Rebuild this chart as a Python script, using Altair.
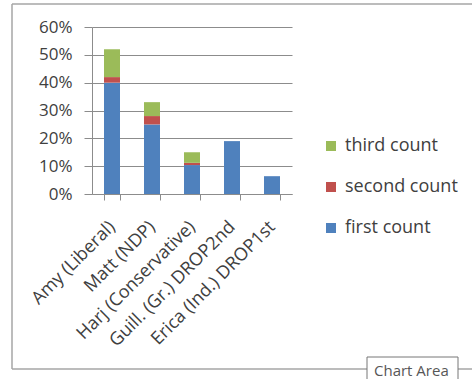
import altair as alt
import pandas as pd

# Share of votes per candidate, split by counting round
candidates = [
    "Amy (Liberal)",
    "Matt (NDP)",
    "Harj (Conservative)",
    "Guill. (Gr.) DROP2nd",
    "Erica (Ind.) DROP1st",
]
first_count = [0.40, 0.25, 0.104, 0.19, 0.064]
second_count = [0.02, 0.03, 0.008, 0.0, 0.0]
third_count = [0.10, 0.05, 0.038, 0.0, 0.0]

series_names = ["first count", "second count", "third count"]
legend_order = ["third count", "second count", "first count"]
colors = ["#9BBB59", "#C0504D", "#4F81BD"]
y_ticks = [0, 0.1, 0.2, 0.3, 0.4, 0.5, 0.6]

rows = []
for i, name in enumerate(candidates):
    for rank, (series, vals) in enumerate(
        zip(series_names, [first_count, second_count, third_count]), start=1
    ):
        rows.append({"candidate": name, "series": series, "rank": rank, "share": vals[i]})
df = pd.DataFrame(rows)

FONT = "Open Sans"
TEXT = "#404040"
GRID = "#8C8C8C"

bars = (
    alt.Chart(df)
    .transform_filter("datum.share > 0")
    .mark_bar()
    .encode(
        x=alt.X(
            "candidate:N",
            sort=candidates,
            title=None,
            scale=alt.Scale(paddingInner=0.6, paddingOuter=0.3),
            axis=alt.Axis(
                labelAngle=-45,
                labelAlign="right",
                labelBaseline="middle",
                labelPadding=24,
                labelFontSize=18,
                labelFont=FONT,
                labelColor=TEXT,
                tickBand="extent",
                tickSize=6,
                tickColor=GRID,
                domainColor=GRID,
                grid=False,
            ),
        ),
        y=alt.Y(
            "share:Q",
            stack="zero",
            title=None,
            scale=alt.Scale(domain=[0, 0.6], nice=False),
            axis=alt.Axis(
                values=y_ticks,
                format=".0%",
                labelFontSize=17,
                labelFont=FONT,
                labelColor=TEXT,
                labelPadding=12,
                tickSize=8,
                tickColor=GRID,
                domainColor=GRID,
                gridColor=GRID,
            ),
        ),
        color=alt.Color(
            "series:N",
            scale=alt.Scale(domain=legend_order, range=colors),
            legend=alt.Legend(
                title=None,
                orient="none",
                legendX=230,
                legendY=110,
                symbolType="square",
                symbolSize=100,
                symbolStrokeWidth=0,
                labelFontSize=18,
                labelFont=FONT,
                labelColor=TEXT,
                labelOffset=5,
                rowPadding=23,
            ),
        ),
        order=alt.Order("rank:Q", sort="ascending"),
    )
)

# Chart-area frame and the hover tag sitting on its lower edge
frame_color = "#A6A6A6"
frame_top = alt.Chart(pd.DataFrame({"k": [0]})).mark_rule(color=frame_color, strokeWidth=1.5).encode(
    x=alt.value(-80), x2=alt.value(390), y=alt.value(-23)
)
frame_left = alt.Chart(pd.DataFrame({"k": [0]})).mark_rule(color=frame_color, strokeWidth=1.5).encode(
    x=alt.value(-80), y=alt.value(-23), y2=alt.value(342)
)
frame_bottom = alt.Chart(pd.DataFrame({"k": [0]})).mark_rule(color=frame_color, strokeWidth=1.5).encode(
    x=alt.value(-80), x2=alt.value(390), y=alt.value(342)
)
tag_box = alt.Chart(pd.DataFrame({"k": [0]})).mark_rect(
    fill="white", stroke="#767676", strokeWidth=1
).encode(x=alt.value(275), x2=alt.value(366), y=alt.value(330), y2=alt.value(360))
tag_text = alt.Chart(pd.DataFrame({"label": ["Chart Area"]})).mark_text(
    font=FONT, fontSize=15, color="#575757", align="left", baseline="alphabetic"
).encode(x=alt.value(282), y=alt.value(349), text="label:N")

chart = (
    alt.layer(frame_top, frame_left, frame_bottom, bars, tag_box, tag_text)
    .properties(
        width=200,
        height=167,
        autosize=alt.AutoSizeParams(type="none"),
        padding={"left": 92, "top": 27, "right": 180, "bottom": 185},
        background="white",
    )
    .configure_view(stroke=None)
)

chart.save("out.html", embed_options={"renderer": "svg", "actions": False})
